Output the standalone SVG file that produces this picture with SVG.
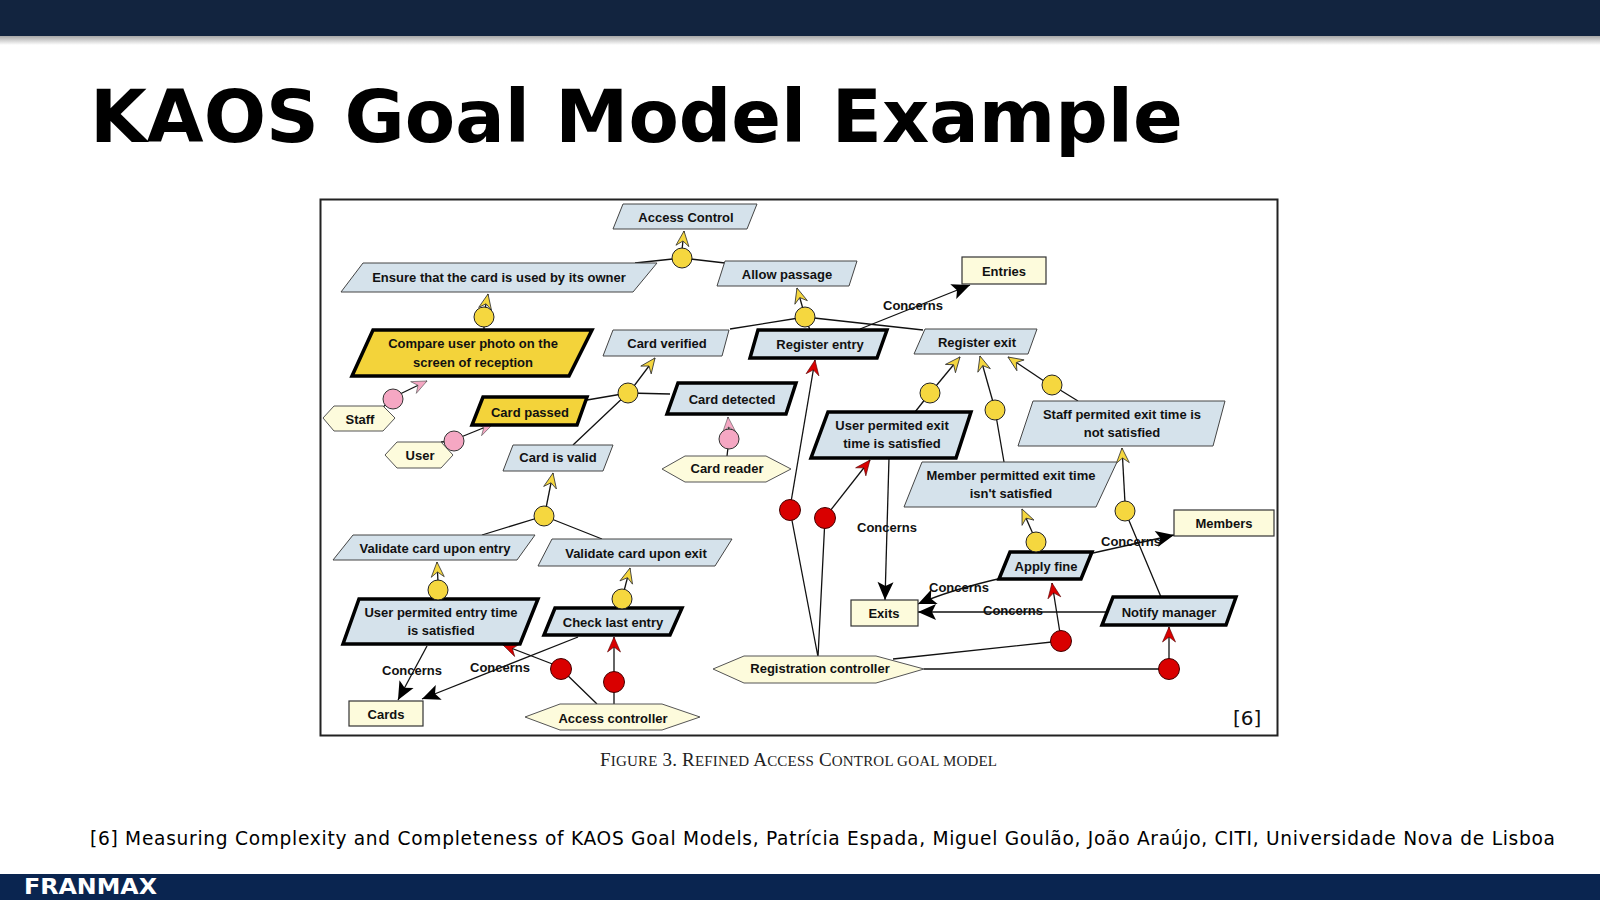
<svg xmlns="http://www.w3.org/2000/svg" width="1600" height="900" viewBox="0 0 1600 900">
<defs>
<style>
.t{font-family:"Liberation Sans",Arial,sans-serif;font-weight:bold;font-size:13px;text-anchor:middle;fill:#111}
.g{fill:#d5e2eb;stroke:#444;stroke-width:1}
.gk{fill:#d5e2eb;stroke:#000;stroke-width:3.5}
.gy{fill:#f3d33a;stroke:#000;stroke-width:3.5}
.ag{fill:#fdfbdc;stroke:#555;stroke-width:1}
.en{fill:#fdfbdc;stroke:#333;stroke-width:1.2}
.yc{fill:#f5d73f;stroke:#222;stroke-width:1}
.rc{fill:#d90000;stroke:#400;stroke-width:1}
.pc{fill:#f5a7c3;stroke:#333;stroke-width:1}
.ln{stroke:#111;stroke-width:1.3;fill:none}
</style>
<linearGradient id="sh" x1="0" y1="0" x2="0" y2="1">
<stop offset="0" stop-color="#000" stop-opacity="0.35"/>
<stop offset="1" stop-color="#000" stop-opacity="0"/>
</linearGradient>
<marker id="ay" markerUnits="userSpaceOnUse" orient="auto" viewBox="-20 -10 20 20" refX="0" refY="0" markerWidth="20" markerHeight="20" overflow="visible">
<path d="M0,0 L-15,-6.5 L-10,0 L-15,6.5 Z" fill="#f5d73f" stroke="#333" stroke-width="0.8"/>
</marker>
<marker id="ar" markerUnits="userSpaceOnUse" orient="auto" viewBox="-20 -10 20 20" refX="0" refY="0" markerWidth="20" markerHeight="20" overflow="visible">
<path d="M0,0 L-15,-6.5 L-10,0 L-15,6.5 Z" fill="#d90000" stroke="#500" stroke-width="0.6"/>
</marker>
<marker id="ap" markerUnits="userSpaceOnUse" orient="auto" viewBox="-20 -10 20 20" refX="0" refY="0" markerWidth="20" markerHeight="20" overflow="visible">
<path d="M0,0 L-15,-6.5 L-10,0 L-15,6.5 Z" fill="#f5a7c3" stroke="#555" stroke-width="0.6"/>
</marker>
<marker id="ab" markerUnits="userSpaceOnUse" orient="auto" viewBox="-20 -10 20 20" refX="0" refY="0" markerWidth="20" markerHeight="20" overflow="visible">
<path d="M0,0 L-18,-8 L-14,0 L-18,8 Z" fill="#000"/>
</marker>
</defs>
<rect width="1600" height="900" fill="#fff"/>
<rect x="0" y="36" width="1600" height="9" fill="url(#sh)"/>
<rect x="0" y="0" width="1600" height="36" fill="#12243f"/>
<text x="90" y="142" font-family="DejaVu Sans, sans-serif" font-weight="bold" font-size="73.4" fill="#000">KAOS Goal Model Example</text>

<rect x="320.5" y="199.5" width="957" height="536" fill="#fff" stroke="#222" stroke-width="2"/>

<g id="connectors">
<path class="ln" d="M682,258 L635,263 M682,258 L725,263"/>
<path class="ln" d="M484,317 L484,330"/>
<path class="ln" d="M805,317 L730,329 M805,317 L810,330 M805,317 L923,330"/>
<path class="ln" d="M628,393 L587,400 M628,393 L670,394 M628,393 L573,445"/>
<path class="ln" d="M544,516 L482,535 M544,516 L602,539"/>
<path class="ln" d="M438,590 L438,599 M622,599 L622,608"/>
<path class="ln" d="M930,393 L915,412 M995,410 L1004,462 M1052,385 L1078,401"/>
<path class="ln" d="M1036,542 L1036,552 M1125,511 L1161,597"/>
<line class="ln" x1="682" y1="250" x2="684" y2="231" marker-end="url(#ay)"/>
<line class="ln" x1="485" y1="309" x2="488" y2="294" marker-end="url(#ay)"/>
<line class="ln" x1="803" y1="309" x2="797" y2="288" marker-end="url(#ay)"/>
<line class="ln" x1="634" y1="386" x2="655" y2="358" marker-end="url(#ay)"/>
<line class="ln" x1="546" y1="508" x2="553" y2="473" marker-end="url(#ay)"/>
<line class="ln" x1="438" y1="582" x2="437" y2="562" marker-end="url(#ay)"/>
<line class="ln" x1="624" y1="591" x2="630" y2="568" marker-end="url(#ay)"/>
<line class="ln" x1="936" y1="386" x2="960" y2="357" marker-end="url(#ay)"/>
<line class="ln" x1="993" y1="402" x2="980" y2="356" marker-end="url(#ay)"/>
<line class="ln" x1="1044" y1="381" x2="1008" y2="357" marker-end="url(#ay)"/>
<line class="ln" x1="1033" y1="534" x2="1022" y2="509" marker-end="url(#ay)"/>
<line class="ln" x1="1125" y1="503" x2="1122" y2="448" marker-end="url(#ay)"/>
<path class="ln" d="M383,407 L393,399 M441,442 L454,441 M729,439 L727,456"/>
<line class="ln" x1="400" y1="394" x2="427" y2="381" marker-end="url(#ap)"/>
<line class="ln" x1="461" y1="437" x2="493" y2="424" marker-end="url(#ap)"/>
<line class="ln" x1="729" y1="431" x2="728" y2="417" marker-end="url(#ap)"/>
<path class="ln" d="M597,704 L561,669 M614,682 L614,704"/>
<path class="ln" d="M818,657 L790,510 M818,657 L825,518 M893,659 L1061,641 M924,669 L1169,669"/>
<line class="ln" x1="555" y1="665" x2="503" y2="645" marker-end="url(#ar)"/>
<line class="ln" x1="614" y1="674" x2="614" y2="637" marker-end="url(#ar)"/>
<line class="ln" x1="791" y1="502" x2="815" y2="360" marker-end="url(#ar)"/>
<line class="ln" x1="830" y1="511" x2="870" y2="460" marker-end="url(#ar)"/>
<line class="ln" x1="1060" y1="633" x2="1052" y2="583" marker-end="url(#ar)"/>
<line class="ln" x1="1169" y1="661" x2="1169" y2="627" marker-end="url(#ar)"/>
<line class="ln" x1="860" y1="329" x2="970" y2="285" marker-end="url(#ab)"/>
<line class="ln" x1="427" y1="646" x2="398" y2="700" marker-end="url(#ab)"/>
<line class="ln" x1="578" y1="637" x2="422" y2="699" marker-end="url(#ab)"/>
<line class="ln" x1="889" y1="458" x2="885" y2="600" marker-end="url(#ab)"/>
<path class="ln" d="M1002,578 Q950,590 918,604" marker-end="url(#ab)"/>
<line class="ln" x1="1107" y1="612" x2="918" y2="612" marker-end="url(#ab)"/>
<line class="ln" x1="1093" y1="553" x2="1174" y2="535" marker-end="url(#ab)"/>
<text class="t" x="913" y="310">Concerns</text>
<text class="t" x="412" y="675">Concerns</text>
<text class="t" x="500" y="672">Concerns</text>
<text class="t" x="887" y="532">Concerns</text>
<text class="t" x="959" y="592">Concerns</text>
<text class="t" x="1013" y="615">Concerns</text>
<text class="t" x="1131" y="546">Concerns</text>
</g>

<g id="n-access-control"><polygon class="g" points="623,204 757,204 747,229 613,229"/><text class="t" x="686" y="222">Access Control</text></g>
<g id="n-ensure"><polygon class="g" points="363,263 657,263 633,292 341,292"/><text class="t" x="499" y="282">Ensure that the card is used by its owner</text></g>
<g id="n-allow"><polygon class="g" points="725,261 857,261 849,286 717,286"/><text class="t" x="787" y="279">Allow passage</text></g>
<g id="n-compare"><polygon class="gy" points="373,330 592,330 569,376 352,376"/><text class="t" x="473" y="348">Compare user photo on the</text><text class="t" x="473" y="367">screen of reception</text></g>
<g id="n-card-verified"><polygon class="g" points="613,330 729,330 722,356 603,356"/><text class="t" x="667" y="348">Card verified</text></g>
<g id="n-register-entry"><polygon class="gk" points="758,330 887,330 877,358 750,358"/><text class="t" x="820" y="349">Register entry</text></g>
<g id="n-register-exit"><polygon class="g" points="925,329 1037,329 1028,354 914,354"/><text class="t" x="977" y="347">Register exit</text></g>
<g id="n-card-passed"><polygon class="gy" points="483,397 587,397 577,425 472,425"/><text class="t" x="530" y="417">Card passed</text></g>
<g id="n-card-detected"><polygon class="gk" points="678,383 796,383 786,414 667,414"/><text class="t" x="732" y="404">Card detected</text></g>
<g id="n-card-valid"><polygon class="g" points="513,445 613,445 603,471 503,471"/><text class="t" x="558" y="462">Card is valid</text></g>
<g id="n-user-exit"><polygon class="gk" points="828,412 971,412 956,458 811,458"/><text class="t" x="892" y="430">User permited exit</text><text class="t" x="892" y="448">time is satisfied</text></g>
<g id="n-staff-exit"><polygon class="g" points="1033,401 1225,401 1213,446 1018,446"/><text class="t" x="1122" y="419">Staff permited exit time is</text><text class="t" x="1122" y="437">not satisfied</text></g>
<g id="n-member-exit"><polygon class="g" points="922,462 1117,462 1096,507 904,507"/><text class="t" x="1011" y="480">Member permitted exit time</text><text class="t" x="1011" y="498">isn't satisfied</text></g>
<g id="n-validate-entry"><polygon class="g" points="353,535 535,535 517,560 333,560"/><text class="t" x="435" y="553">Validate card upon entry</text></g>
<g id="n-validate-exit"><polygon class="g" points="552,539 732,539 715,566 538,566"/><text class="t" x="636" y="558">Validate card upon exit</text></g>
<g id="n-apply-fine"><polygon class="gk" points="1010,552 1092,552 1081,579 999,579"/><text class="t" x="1046" y="571">Apply fine</text></g>
<g id="n-user-entry"><polygon class="gk" points="359,599 538,599 520,644 343,644"/><text class="t" x="441" y="617">User permited entry time</text><text class="t" x="441" y="635">is satisfied</text></g>
<g id="n-check-last"><polygon class="gk" points="555,608 682,608 670,635 544,635"/><text class="t" x="613" y="627">Check last entry</text></g>
<g id="n-notify"><polygon class="gk" points="1113,597 1236,597 1226,625 1102,625"/><text class="t" x="1169" y="617">Notify manager</text></g>

<g id="e-entries"><rect class="en" x="962" y="257" width="84" height="27"/><text class="t" x="1004" y="276">Entries</text></g>
<g id="e-members"><rect class="en" x="1174" y="510" width="100" height="26"/><text class="t" x="1224" y="528">Members</text></g>
<g id="e-exits"><rect class="en" x="851" y="600" width="67" height="26"/><text class="t" x="884" y="618">Exits</text></g>
<g id="e-cards"><rect class="en" x="349" y="701" width="74" height="25"/><text class="t" x="386" y="719">Cards</text></g>

<g id="a-staff"><polygon class="ag" points="323,418 334,406 383,406 395,418 383,431 334,431"/><text class="t" x="360" y="424">Staff</text></g>
<g id="a-user"><polygon class="ag" points="385,455 397,442 441,442 453,455 441,468 397,468"/><text class="t" x="420" y="460">User</text></g>
<g id="a-card-reader"><polygon class="ag" points="662,469 685,456 766,456 791,469 766,482 685,482"/><text class="t" x="727" y="473">Card reader</text></g>
<g id="a-access-controller"><polygon class="ag" points="525,717 560,704 662,704 700,717 662,730 560,730"/><text class="t" x="613" y="723">Access controller</text></g>
<g id="a-registration"><polygon class="ag" points="713,669 744,656 876,656 924,669 876,683 744,683"/><text class="t" x="820" y="673">Registration controller</text></g>

<g id="refinements">
<circle class="yc" cx="682" cy="258" r="10"/>
<circle class="yc" cx="484" cy="317" r="10"/>
<circle class="yc" cx="805" cy="317" r="10"/>
<circle class="yc" cx="628" cy="393" r="10"/>
<circle class="yc" cx="544" cy="516" r="10"/>
<circle class="yc" cx="438" cy="590" r="10"/>
<circle class="yc" cx="622" cy="599" r="10"/>
<circle class="yc" cx="930" cy="393" r="10"/>
<circle class="yc" cx="995" cy="410" r="10"/>
<circle class="yc" cx="1052" cy="385" r="10"/>
<circle class="yc" cx="1036" cy="542" r="10"/>
<circle class="yc" cx="1125" cy="511" r="10"/>
</g>
<g id="responsibilities">
<circle class="pc" cx="393" cy="399" r="10"/>
<circle class="pc" cx="454" cy="441" r="10"/>
<circle class="pc" cx="729" cy="439" r="10"/>
</g>
<g id="assignments">
<circle class="rc" cx="561" cy="669" r="10.5"/>
<circle class="rc" cx="614" cy="682" r="10.5"/>
<circle class="rc" cx="790" cy="510" r="10.5"/>
<circle class="rc" cx="825" cy="518" r="10.5"/>
<circle class="rc" cx="1061" cy="641" r="10.5"/>
<circle class="rc" cx="1169" cy="669" r="10.5"/>
</g>

<text x="1233" y="725" font-family="DejaVu Sans, sans-serif" font-size="20" fill="#111">[6]</text>

<text x="600" y="766" font-family="Liberation Serif, serif" fill="#222" textLength="397" lengthAdjust="spacing"><tspan font-size="19">F</tspan><tspan font-size="15">IGURE</tspan><tspan font-size="19"> 3. R</tspan><tspan font-size="15">EFINED</tspan><tspan font-size="19"> A</tspan><tspan font-size="15">CCESS</tspan><tspan font-size="19"> C</tspan><tspan font-size="15">ONTROL GOAL MODEL</tspan></text>

<text x="90" y="845" font-family="DejaVu Sans, sans-serif" font-size="18.6" fill="#000" textLength="1465" lengthAdjust="spacing">[6] Measuring Complexity and Completeness of KAOS Goal Models, Patrícia Espada, Miguel Goulão, João Araújo, CITI, Universidade Nova de Lisboa</text>

<rect x="0" y="874" width="1600" height="26" fill="#0a2550"/>
<text x="24" y="894" font-family="DejaVu Sans, sans-serif" font-weight="bold" font-size="22" fill="#fff" textLength="133" lengthAdjust="spacingAndGlyphs">FRANMAX</text>
</svg>
